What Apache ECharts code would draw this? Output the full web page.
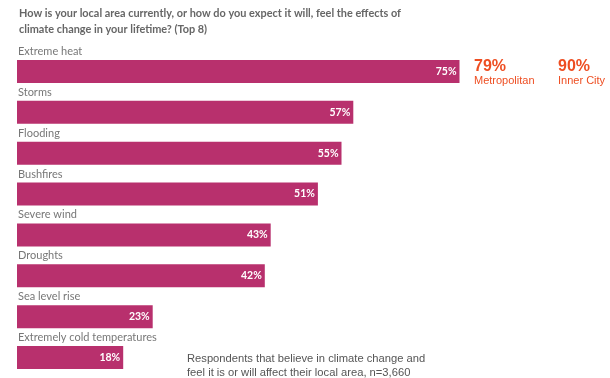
<!DOCTYPE html>
<html><head><meta charset="utf-8">
<script src="https://cdn.jsdelivr.net/npm/echarts@6/dist/echarts.min.js"></script>
<style>html,body{margin:0;padding:0;background:#fff}#c{width:610px;height:378px}</style>
</head><body><div id="c"></div>
<script>
var categories = ["Extreme heat","Storms","Flooding","Bushfires","Severe wind","Droughts","Sea level rise","Extremely cold temperatures"];
var values = [75,57,55,51,43,42,23,18];
var callouts = [{value:"79%", label:"Metropolitan"},{value:"90%", label:"Inner City"}];
var titleText = "How is your local area currently, or how do you expect it will, feel the effects of\nclimate change in your lifetime? (Top 8)";
var noteText = "Respondents that believe in climate change and\nfeel it is or will affect their local area, n=3,660";

var chart = echarts.init(document.getElementById('c'), null, {renderer:'canvas'});
var graphics = [];
var cx = [474, 558];
callouts.forEach(function(c, i){
  graphics.push({type:'text', left:cx[i], top:59, style:{text:c.value, font:'bold 16px "Liberation Sans", Arial, sans-serif', fill:'#EE4E22'}});
  graphics.push({type:'text', left:cx[i], top:75, style:{text:c.label, font:'11px "Liberation Sans", Arial, sans-serif', fill:'#EE4E22'}});
});
graphics.push({type:'text', left:187, top:352, style:{text:noteText, font:'11.2px "Liberation Sans", Arial, sans-serif', fill:'#555', lineHeight:14}});
chart.setOption({
  animation:false,
  title:{text:titleText, left:14, top:0, textStyle:{fontFamily:'Lato, "Open Sans", sans-serif', fontSize:10.9, fontWeight:'bold', color:'#666', lineHeight:16}},
  grid:{left:17, top:51, width:590, height:328, containLabel:false},
  xAxis:{type:'value', min:0, max:100, show:false},
  yAxis:{type:'category', data:categories, inverse:true, show:false},
  graphic:graphics,
  series:[
    {type:'bar', data:values, barWidth:23, itemStyle:{color:'#B8306D'},
     label:{show:true, position:'insideRight', distance:3, formatter:'{c}%', color:'#fff', fontSize:10.5, fontWeight:'bold', fontFamily:'Lato, sans-serif'}},
    {type:'bar', data:values, barWidth:23, barGap:'-100%', itemStyle:{color:'rgba(0,0,0,0)'}, silent:true,
     label:{show:true, position:[1,-14], formatter:'{b}', color:'#777', fontSize:11, fontFamily:'Lato, "Open Sans", sans-serif'}}
  ]
});
</script></body></html>
